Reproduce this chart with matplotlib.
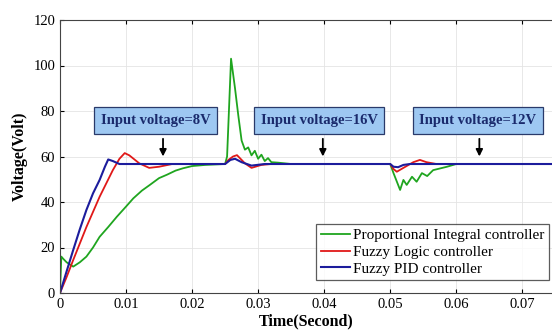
import matplotlib
matplotlib.use("Agg")
import matplotlib.pyplot as plt

# --- PI controller response (time in s, voltage in V) ---
t_pi = [0, 0.0002, 0.0005, 0.001, 0.002, 0.003, 0.004, 0.005, 0.006, 0.0073,
        0.0086, 0.01, 0.0111, 0.0124, 0.0136, 0.015, 0.0162, 0.0175, 0.0186,
        0.02, 0.022, 0.025, 0.0253, 0.0259, 0.0265, 0.027, 0.0275, 0.028,
        0.0285, 0.029, 0.0295, 0.03, 0.0305, 0.031, 0.0315, 0.032, 0.033,
        0.035, 0.05, 0.0505, 0.0515, 0.052, 0.0525, 0.0533, 0.054, 0.0548,
        0.0556, 0.0565, 0.0586, 0.06, 0.075]
v_pi = [0, 16, 15, 13.5, 11.6, 13.5, 16, 20, 24.7, 29,
        33.5, 38, 41.6, 45, 47.5, 50.5, 52, 53.8, 54.8,
        55.8, 56.3, 56.7, 60, 103, 90, 78, 67, 63,
        64, 60.5, 62.5, 59, 60.8, 58, 59.3, 57.5, 57.3,
        56.7, 56.7, 52.7, 45.3, 49.7, 47.5, 51.1, 48.9, 52.7,
        51.4, 54, 55.5, 56.7, 56.7]

# --- Fuzzy logic controller response ---
t_flc = [0, 0.001, 0.002, 0.004, 0.006, 0.008, 0.009, 0.0098, 0.0105, 0.012,
         0.0135, 0.015, 0.017, 0.025, 0.0255, 0.0262, 0.0268, 0.028, 0.029,
         0.0305, 0.032, 0.05, 0.0505, 0.051, 0.052, 0.0535, 0.0545, 0.0555,
         0.057, 0.075]
v_flc = [0, 7, 14.5, 29, 42.3, 54, 59, 61.5, 60.5, 57,
         55, 55.5, 56.7, 56.7, 58.5, 60, 60.6, 57, 55,
         56.3, 56.7, 56.7, 54.5, 53.3, 55, 57.5, 58.5, 57.5,
         56.7, 56.7]

# --- Fuzzy PID controller response ---
t_fpid = [0, 0.001, 0.002, 0.003, 0.004, 0.005, 0.006, 0.0068, 0.0073, 0.008,
          0.009, 0.025, 0.0258, 0.0265, 0.0275, 0.029, 0.031, 0.05, 0.0505,
          0.0512, 0.052, 0.053, 0.075]
v_fpid = [0, 9.5, 18.9, 28, 36.5, 43.8, 49.7, 55.5, 58.7, 58,
          56.7, 56.7, 58.5, 59, 57.5, 56, 56.7, 56.7, 55.5,
          55.3, 56.3, 56.7, 56.7]

# annotation boxes: label, box centre (t, V), arrow x position
notes = ["Input voltage=8V", "Input voltage=16V", "Input voltage=12V"]
note_box_t = [0.01447, 0.03924, 0.06326]
note_arrow_t = [0.0156, 0.0398, 0.0635]
note_box_v = 75.8

plt.rcParams["font.family"] = ["Liberation Serif", "DejaVu Serif"]

fig = plt.figure(figsize=(5.52, 3.36), dpi=100)
ax = fig.add_axes([60 / 552, 1 - 293 / 336, 1 - 60 / 552, 273 / 336])

ax.plot(t_pi, v_pi, color="#1fa51f", linewidth=1.3, label="Proportional Integral controller")
ax.plot(t_flc, v_flc, color="#e01818", linewidth=1.3, label="Fuzzy Logic controller")
ax.plot(t_fpid, v_fpid, color="#1c1c9c", linewidth=1.5, label="Fuzzy PID controller")

for txt, bt, at in zip(notes, note_box_t, note_arrow_t):
    ax.text(bt, note_box_v, txt, ha="center", va="center", fontsize=10.5,
            fontweight="bold", color="#1a2a6c",
            bbox=dict(boxstyle="square,pad=0.45", facecolor="#9ec8f2",
                      edgecolor="#2a3a6a", linewidth=0.9))
    ax.annotate("", xy=(at, 58.8), xytext=(at, 69),
                arrowprops=dict(arrowstyle="-|>", color="black", lw=1.3,
                                mutation_scale=10))

ax.set_xlim(0, 0.0745)
ax.set_ylim(0, 120)
ax.set_xticks([0, 0.01, 0.02, 0.03, 0.04, 0.05, 0.06, 0.07])
ax.set_xticklabels(["0", "0.01", "0.02", "0.03", "0.04", "0.05", "0.06", "0.07"])
ax.set_yticks([0, 20, 40, 60, 80, 100, 120])
ax.tick_params(direction="in", top=True, right=False, labelsize=10.5, length=3)
ax.grid(True, color="#e4e4e4", linewidth=0.6)
for s in ["left", "bottom", "top"]:
    ax.spines[s].set_color("#444444")
ax.spines["right"].set_visible(False)

ax.set_xlabel("Time(Second)", fontsize=11.5, fontweight="bold", labelpad=2)
ax.set_ylabel("Voltage(Volt)", fontsize=11.5, fontweight="bold", labelpad=4)

leg = ax.legend(loc="lower right", bbox_to_anchor=(1.0, 0.035), fontsize=11,
                frameon=True, fancybox=False, handlelength=1.9,
                handletextpad=0.2, borderpad=0.3, labelspacing=0.2,
                borderaxespad=0.2)
leg.get_frame().set_edgecolor("#333333")
leg.get_frame().set_linewidth(0.9)

fig.savefig("out.png", dpi=100)
